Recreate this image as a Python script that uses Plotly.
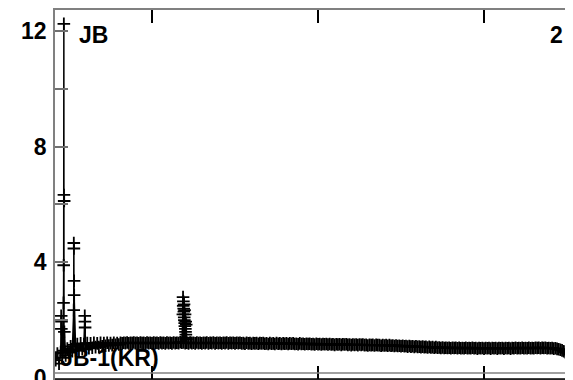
import plotly.graph_objects as go

# ---- data -------------------------------------------------------------
band_x = list(range(42, 354))
band_y = [
    0.62, 0.85, 0.50, 0.90, 0.70, 0.95, 0.78, 1.02, 0.88, 1.10,
    0.93, 1.15, 0.96, 1.18, 0.98, 1.20, 1.00, 1.18, 0.99, 1.21,
    1.03, 1.20, 1.05, 1.22, 1.07, 1.20, 1.07, 1.22, 1.10, 1.21,
    1.12, 1.22, 1.13, 1.21, 1.14, 1.22, 1.15, 1.21, 1.16, 1.22,
    1.20, 1.22, 1.21, 1.23, 1.20, 1.22, 1.21, 1.23, 1.21, 1.22,
    1.20, 1.23, 1.21, 1.22, 1.20, 1.23, 1.21, 1.22, 1.20, 1.23,
    1.21, 1.22, 1.20, 1.23, 1.21, 1.22, 1.20, 1.23, 1.21, 1.22,
    1.20, 1.23, 1.21, 1.22, 1.21, 1.24, 1.22, 1.23, 1.21, 1.22,
    1.20, 1.23, 1.21, 1.22, 1.20, 1.23, 1.21, 1.22, 1.20, 1.22,
    1.21, 1.23, 1.20, 1.22, 1.21, 1.23, 1.20, 1.22, 1.21, 1.22,
    1.20, 1.22, 1.21, 1.23, 1.20, 1.22, 1.21, 1.22, 1.20, 1.22,
    1.21, 1.22, 1.20, 1.21, 1.19, 1.22, 1.20, 1.21, 1.19, 1.21,
    1.20, 1.21, 1.19, 1.21, 1.20, 1.21, 1.19, 1.20, 1.18, 1.21,
    1.19, 1.20, 1.18, 1.21, 1.19, 1.20, 1.18, 1.20, 1.19, 1.20,
    1.18, 1.20, 1.19, 1.20, 1.18, 1.19, 1.17, 1.20, 1.18, 1.19,
    1.17, 1.19, 1.18, 1.19, 1.17, 1.18, 1.16, 1.19, 1.17, 1.18,
    1.16, 1.18, 1.17, 1.18, 1.16, 1.18, 1.16, 1.17, 1.15, 1.17,
    1.16, 1.17, 1.15, 1.17, 1.16, 1.17, 1.15, 1.16, 1.14, 1.16,
    1.15, 1.16, 1.14, 1.16, 1.15, 1.16, 1.14, 1.15, 1.13, 1.15,
    1.14, 1.15, 1.13, 1.15, 1.14, 1.14, 1.12, 1.14, 1.13, 1.14,
    1.12, 1.14, 1.12, 1.13, 1.11, 1.13, 1.11, 1.12, 1.10, 1.12,
    1.10, 1.11, 1.09, 1.11, 1.09, 1.10, 1.08, 1.10, 1.08, 1.09,
    1.07, 1.09, 1.07, 1.08, 1.06, 1.08, 1.06, 1.07, 1.05, 1.07,
    1.05, 1.06, 1.04, 1.06, 1.04, 1.05, 1.04, 1.05, 1.03, 1.05,
    1.04, 1.05, 1.03, 1.05, 1.03, 1.04, 1.03, 1.05, 1.03, 1.04,
    1.03, 1.05, 1.03, 1.04, 1.02, 1.04, 1.03, 1.04, 1.02, 1.04,
    1.03, 1.04, 1.02, 1.04, 1.03, 1.04, 1.02, 1.04, 1.03, 1.04,
    1.02, 1.04, 1.03, 1.04, 1.02, 1.04, 1.03, 1.05, 1.03, 1.04,
    1.03, 1.05, 1.03, 1.04, 1.03, 1.05, 1.03, 1.04, 1.03, 1.05,
    1.04, 1.05, 1.03, 1.05, 1.04, 1.05, 1.03, 1.04, 1.03, 1.04,
    1.02, 1.03, 1.01, 1.00, 0.98, 0.96, 0.93, 0.90, 0.87, 0.84,
    0.81, 0.78,
]

spike_x = [45.3, 45.4, 45.5,
           46.7, 46.8, 46.9, 46.95, 47.1, 47.2,
           52.85, 52.9, 52.95, 53.05, 53.1,
           59.5, 59.6, 59.7,
           118.6, 118.7, 118.8, 118.9, 119.1, 119.2, 119.3, 119.4, 119.5,
           119.6, 119.7, 119.8, 119.9, 120.1, 120.2, 120.3, 120.4, 120.5,
           120.6, 120.7]
spike_y = [2.15, 1.70, 1.95,
           2.60, 3.90, 12.24, 6.33, 6.12, 1.60,
           2.35, 4.67, 4.48, 3.36, 2.87,
           2.15, 1.95, 1.75,
           2.20, 2.80, 2.50, 2.65, 2.40, 2.30, 2.55, 2.10, 2.00,
           2.35, 1.90, 1.80, 2.20, 1.70, 1.60, 1.95, 1.50, 1.40,
           1.85, 1.35]

y_tick_vals = [0, 2, 4, 6, 8, 10, 12]
y_tick_text = ["0", "", "4", "", "8", "", "12"]
x_tick_vals = [100, 200, 300]

label_left = "JB"
label_right = "2"
label_sample = "JB-1(KR)"

# ---- build series ------------------------------------------------------
pts = sorted(zip(band_x + spike_x, band_y + spike_y))
xs = [p[0] for p in pts]
ys = [p[1] for p in pts]

FONT = "Liberation Sans, Arial, sans-serif"
BIG = dict(family=FONT, size=23, color="black", weight="bold")

fig = go.Figure()
fig.add_trace(go.Scatter(
    x=xs, y=ys, mode="lines+markers",
    line=dict(color="black", width=1.5),
    marker=dict(symbol="cross-thin", size=9, color="black",
                line=dict(color="black", width=1.8)),
    showlegend=False, hoverinfo="skip",
))

# page body has an 8px margin: figure is sized so the plot area lands at
# x=55..573, y=10..379 in the 573x380 window
fig.update_layout(
    width=565, height=372,
    margin=dict(l=47, r=0, t=2, b=1),
    paper_bgcolor="white", plot_bgcolor="white",
    xaxis=dict(range=[41.57, 353.6], tickvals=x_tick_vals, showticklabels=False,
               ticks="inside", ticklen=13, tickwidth=1.5, tickcolor="black",
               showline=True, linecolor="#808080", linewidth=1.5, mirror="ticks",
               showgrid=False, zeroline=False, automargin=False),
    yaxis=dict(range=[-0.03, 12.72], tickvals=y_tick_vals, ticktext=y_tick_text,
               ticks="inside", ticklen=13, tickwidth=1.5, tickcolor="#707070",
               showline=True, linecolor="#808080", linewidth=1.5,
               showgrid=False, zeroline=False, ticklabeloverflow="allow",
               automargin=False, ticklabelstandoff=2, tickfont=BIG),
    annotations=[
        dict(text=label_left, xref="paper", yref="paper", x=0.043, y=0.932,
             xanchor="left", yanchor="middle", showarrow=False, font=BIG),
        dict(text=label_right, xref="paper", yref="paper", x=0.984, y=0.932,
             xanchor="right", yanchor="middle", showarrow=False, font=BIG),
    ],
    shapes=[
        dict(type="rect", xref="paper", yref="paper", x0=0.055, x1=0.155,
             y0=0.035, y1=0.091, line=dict(width=0), layer="below",
             label=dict(text=label_sample, textposition="middle center", font=BIG)),
        dict(type="line", xref="paper", yref="paper", x0=0, x1=1, y0=0.0163, y1=0.0163,
             line=dict(color="#808080", width=1.5)),
        dict(type="line", xref="paper", yref="paper", x0=0, x1=1, y0=0, y1=0,
             line=dict(color="black", width=1.5)),
    ],
)

fig.write_html("out.html")
